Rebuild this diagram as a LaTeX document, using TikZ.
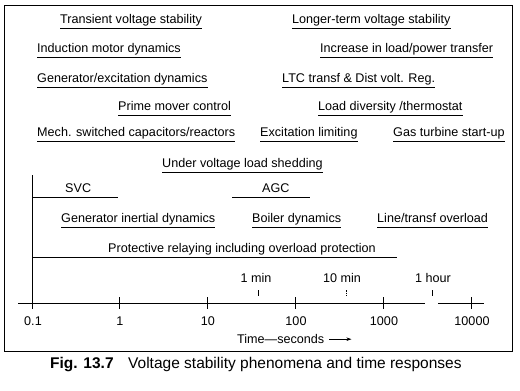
\documentclass[tikz,border=0pt]{standalone}
\usepackage{fontspec}
\setmainfont{Liberation Sans}
\usetikzlibrary{arrows.meta}
\begin{document}
\begin{tikzpicture}[x=1pt,y=-1pt,
  lbl/.style={font=\fontsize{12.6}{14}\selectfont, inner sep=0pt, anchor=base west},
  num/.style={font=\fontsize{12.6}{14}\selectfont, inner sep=0pt, anchor=base},
  capt/.style={font=\fontsize{15.5}{18}\selectfont, inner sep=0pt, anchor=base west},
  uline/.style={line width=0.6pt},
  frame/.style={line width=0.8pt},
  tickl/.style={line width=0.6pt}]
\useasboundingbox (0,0) rectangle (520,391);
\draw[frame] (4,5) rectangle (512,351);

% labels
\node[lbl] (tvs) at (60,23) {Transient voltage stability};
\node[lbl] (imd) at (37,52) {Induction motor dynamics};
\node[lbl] (ged) at (37,82) {Generator/excitation dynamics};
\node[lbl] (pmc) at (118,110) {Prime mover control};
\node[lbl] (msc) at (37,136) {Mech. switched capacitors/reactors};
\node[lbl] (uvl) at (162,167) {Under voltage load shedding};
\node[lbl] (svc) at (65,192) {SVC};
\node[lbl] (gid) at (61,222) {Generator inertial dynamics};
\node[lbl] (prt) at (108,252) {Protective relaying including overload protection};
\node[lbl] (ltv) at (292,23) {Longer-term voltage stability};
\node[lbl] (ilp) at (320,52) {Increase in load/power transfer};
\node[lbl] (ltc) at (282,82) {LTC transf \& Dist volt. Reg.};
\node[lbl] (ldt) at (318,110) {Load diversity /thermostat};
\node[lbl] (exl) at (260,136) {Excitation limiting};
\node[lbl] (gts) at (393,136) {Gas turbine start-up};
\node[lbl] (agc) at (262,192) {AGC};
\node[lbl] (bld) at (252,222) {Boiler dynamics};
\node[lbl] (lto) at (377,222) {Line/transf overload};

% underlines matching text width
\foreach \n in {tvs,imd,ged,pmc,msc,uvl,gid,ltv,ilp,ltc,ldt,exl,gts,bld,lto}
  \draw[uline] ([yshift=-5pt]\n.base west) -- ([yshift=-5pt]\n.base east);

% underlines wider than text
\coordinate (svcL) at (33,197); \coordinate (svcR) at (118,197);
\draw[uline] (svcL) -- (svcR);
\coordinate (agcL) at (232,197); \coordinate (agcR) at (310,197);
\draw[uline] (agcL) -- (agcR);
\coordinate (prtL) at (33,257); \coordinate (prtR) at (397,257);
\draw[uline] (prtL) -- (prtR);

% axis
\coordinate (axL) at (18,303); \coordinate (gapL) at (425,303);
\coordinate (gapR) at (438,303); \coordinate (axR) at (484,303);
\draw[uline] (axL) -- (gapL);
\draw[uline] (gapR) -- (axR);
\coordinate (vTop) at (32,175); \coordinate (vBot) at (32,303);
\draw[uline] (vTop) -- (vBot);

\foreach \x/\l/\n in {32/0.1/a,119/1/b,207/10/c,295/100/d,383/1000/e,471/10000/f} {
  \draw[tickl] (\x,297) -- (\x,309);
  \node[num] (n\n) at (\x+1,325) {\l};
}

% time markers
\node[num] (m1) at (256,282) {1 min};
\draw[tickl] (258,290) -- (258,296);
\node[num] (m10) at (342,282) {10 min};
\draw[tickl, dash pattern=on 1.5pt off 1pt] (346,290) -- (346,296);
\node[num] (h1) at (433,282) {1 hour};
\draw[tickl] (432,290) -- (432,296);

\node[lbl] (time) at (237,343) {Time—seconds};
\draw[uline,-{Stealth[length=5pt,width=3.5pt]}] ([xshift=5pt,yshift=3.8pt]time.base east) -- ++(22,0);

% caption
\node[capt, font=\fontsize{15.5}{18}\selectfont\bfseries] (fig) at (50,368) {Fig. 13.7};
\node[capt] (captxt) at (128,368) {Voltage stability phenomena and time responses};
\end{tikzpicture}
\end{document}
